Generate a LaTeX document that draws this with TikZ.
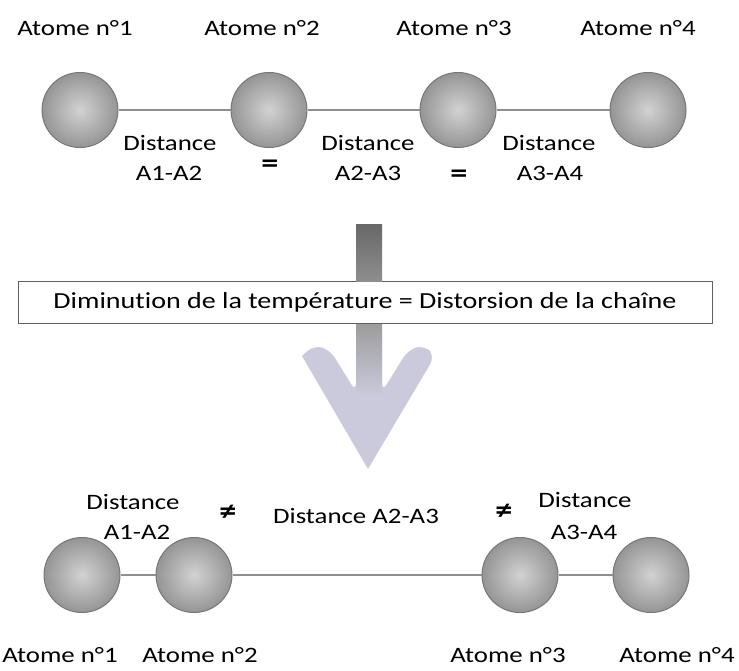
\documentclass[tikz,border=0pt]{standalone}
\usepackage{fontspec}
\setmainfont{Carlito}[FakeStretch=1.22, Ligatures={NoCommon,NoContextual}]
\usetikzlibrary{shapes.geometric}
\definecolor{atomin}{HTML}{D2D2D2}
\definecolor{atomout}{HTML}{959595}
\definecolor{atomedge}{HTML}{777777}
\definecolor{bondc}{HTML}{8E8E8E}
\definecolor{arrowdark}{HTML}{7A7A7A}
\definecolor{arrowlight}{HTML}{CACADC}
\definecolor{boxedge}{HTML}{606060}
\begin{document}
\begin{tikzpicture}[x=1pt,y=-1pt,
  atom/.style={ellipse, minimum width=76pt, minimum height=75pt, inner sep=0pt,
    draw=atomedge, line width=1pt, inner color=atomin, outer color=atomout},
  bond/.style={draw=bondc, line width=2.6pt},
  lbl/.style={font=\fontsize{22}{24}\selectfont, text=black, inner sep=0pt, align=center},
  eqs/.style={font=\fontsize{28}{30}\selectfont\bfseries, text=black, inner sep=0pt},
  banner/.style={draw=boxedge, line width=0.9pt, fill=white, minimum width=694pt,
    minimum height=42pt, inner sep=0pt, font=\fontsize{23}{25}\selectfont}
]
\useasboundingbox (0,0) rectangle (739,670);
\fill[white] (0,0) rectangle (739,670);

% ---- top chain
\node[lbl] (t1) at (75,28) {Atome n°1};
\node[lbl] (t2) at (262,28) {Atome n°2};
\node[lbl] (t3) at (454,28) {Atome n°3};
\node[lbl] (t4) at (638,28) {Atome n°4};

\node[atom] (a1) at (80,110) {};
\node[atom] (a2) at (269,110) {};
\node[atom] (a3) at (458,110) {};
\node[atom] (a4) at (648,110) {};
\draw[bond] (a1) -- (a2);
\draw[bond] (a2) -- (a3);
\draw[bond] (a3) -- (a4);

\node[lbl] (d1a) at (170,143) {Distance};
\node[lbl] (d1b) at (169,173) {A1-A2};
\node[lbl] (d2a) at (368,143) {Distance};
\node[lbl] (d2b) at (368,173) {A2-A3};
\node[lbl] (d3a) at (549,143) {Distance};
\node[lbl] (d3b) at (550,173) {A3-A4};
\node[eqs] (e1) at (270,166) {=};
\node[eqs] (e2) at (459,176) {=};

% ---- arrow
\coordinate (sl) at (356,323);
\coordinate (sr) at (382,323);
\fill[arrowlight, rounded corners=9pt] (302,356) -- (314,345) -- (330,350)
  -- (356,392) -- (sl) -- (sr) -- (382,392) -- (408,350) -- (424,345)
  -- (435,356) [sharp corners] -- (368,469) -- cycle;
\shade[top color=arrowdark!75!white, bottom color=arrowlight] (356,322) rectangle (382,395);
\node[banner] (box) at (365,302) {Diminut\kern0pt ion de la température = Distorsion de la chaîne};
\shade[top color=arrowdark!85!black, bottom color=arrowdark!85!white] (356,224) rectangle (382,281);

% ---- bottom chain
\node[lbl] (b1a) at (133,502) {Distance};
\node[lbl] (b1b) at (137,532) {A1-A2};
\node[eqs] (n1) at (228,513) {≠};
\node[lbl] (b2) at (356,516) {Distance A2-A3};
\node[eqs] (n2) at (504,512) {≠};
\node[lbl] (b3a) at (585,500) {Distance};
\node[lbl] (b3b) at (584,532) {A3-A4};

\node[atom] (c1) at (82,575) {};
\node[atom] (c2) at (194,575) {};
\node[atom] (c3) at (520,575) {};
\node[atom] (c4) at (651,575) {};
\draw[bond] (c1) -- (c2);
\draw[bond] (c2) -- (c3);
\draw[bond] (c3) -- (c4);

\node[lbl] (u1) at (60,655) {Atome n°1};
\node[lbl] (u2) at (200,655) {Atome n°2};
\node[lbl] (u3) at (508,655) {Atome n°3};
\node[lbl] (u4) at (677,655) {Atome n°4};
\end{tikzpicture}
\end{document}
